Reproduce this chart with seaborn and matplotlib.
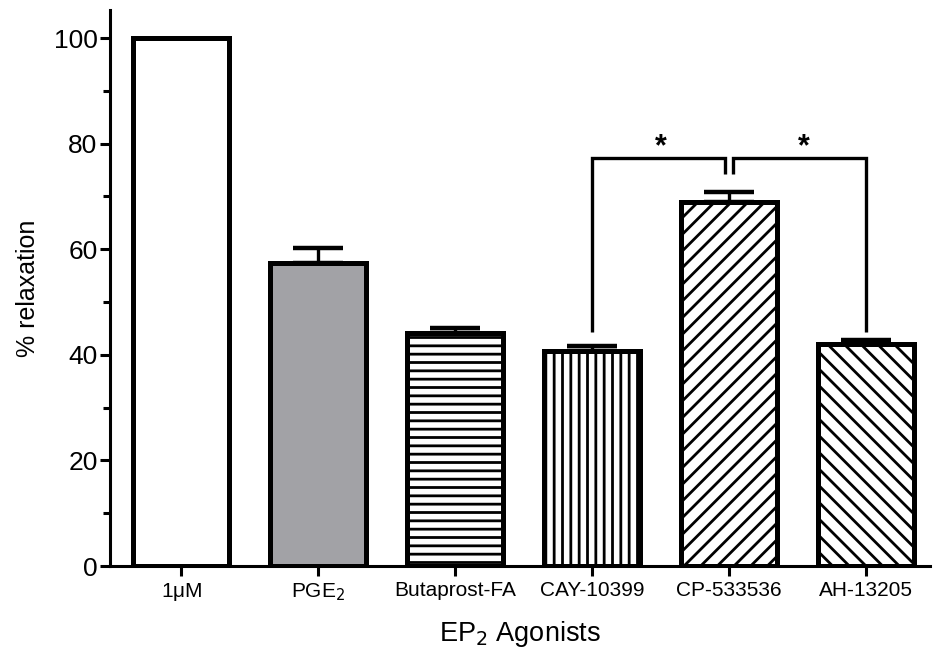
import matplotlib
matplotlib.use("Agg")
import matplotlib.pyplot as plt
import seaborn as sns
import numpy as np
import pandas as pd
from matplotlib.ticker import MultipleLocator

agonists = ["1$\\mathregular{\\mu}$M", "PGE$_2$", "Butaprost-FA", "CAY-10399", "CP-533536", "AH-13205"]
relaxation = [100.0, 57.4, 44.2, 40.7, 68.9, 42.0]
sem = [0.0, 2.8, 0.8, 1.0, 1.9, 0.8]
colors = ["white", "#a2a2a6", "white", "white", "white", "white"]
hatches = ["", "", "--", "||", "//", "\\\\"]

sns.set_theme(style="white")
plt.rcParams["font.family"] = ["Liberation Sans", "DejaVu Sans"]
plt.rcParams["hatch.linewidth"] = 2.0
plt.rcParams["hatch.color"] = "black"
plt.rcParams["text.color"] = "black"
plt.rcParams["axes.labelcolor"] = "black"
plt.rcParams["xtick.color"] = "black"
plt.rcParams["ytick.color"] = "black"

df = pd.DataFrame({"agonist": agonists, "relaxation": relaxation, "sem": sem})

fig = plt.figure(figsize=(9.33, 6.48), dpi=100)
ax = fig.add_axes([0.118, 0.1265, 0.879, 0.858])

sns.barplot(data=df, x="agonist", y="relaxation", hue="agonist", palette=colors,
            edgecolor="black", linewidth=3.6, width=0.7, legend=False, ax=ax,
            errorbar=None, saturation=1)

for p, h in zip(ax.patches, hatches):
    p.set_hatch(h)
    p.set_edgecolor("black")

x = np.arange(len(agonists))
mask = np.array(sem) > 0
ax.errorbar(x[mask], np.array(relaxation)[mask],
            yerr=[np.zeros(mask.sum()), np.array(sem)[mask]],
            fmt="none", ecolor="black", elinewidth=2.4, capsize=18, capthick=3.2, zorder=1)

# significance brackets
lw = 2.4
yb = 77.3
ax.plot([3, 3, 3.97, 3.97], [44.3, yb, yb, 74.2], color="black", lw=lw, solid_capstyle="butt", solid_joinstyle="miter")
ax.plot([4.03, 4.03, 5, 5], [74.2, yb, yb, 44.3], color="black", lw=lw, solid_capstyle="butt", solid_joinstyle="miter")
ax.text(3.5, 79.3, "*", ha="center", va="center", fontsize=22, fontweight="bold")
ax.text(4.55, 79.3, "*", ha="center", va="center", fontsize=22, fontweight="bold")

ax.set_xlim(-0.52, 5.47)
ax.set_ylim(0, 105.3)
ax.yaxis.set_major_locator(MultipleLocator(20))
ax.yaxis.set_minor_locator(MultipleLocator(10))

for s in ["top", "right"]:
    ax.spines[s].set_visible(False)
for s in ["left", "bottom"]:
    ax.spines[s].set_linewidth(2.2)
    ax.spines[s].set_color("black")

ax.tick_params(axis="y", which="major", direction="out", length=7, width=2.2, labelsize=19, left=True, pad=2)
ax.tick_params(axis="y", which="minor", direction="out", length=5, width=2.2, left=True)
ax.tick_params(axis="x", which="major", direction="out", length=7, width=2.2, labelsize=15, bottom=True, pad=4)

ax.set_xlabel("EP$_2$ Agonists", fontsize=19.5, labelpad=11)
ax.set_ylabel("% relaxation", fontsize=18, labelpad=10)

fig.savefig("out.png", dpi=100)
